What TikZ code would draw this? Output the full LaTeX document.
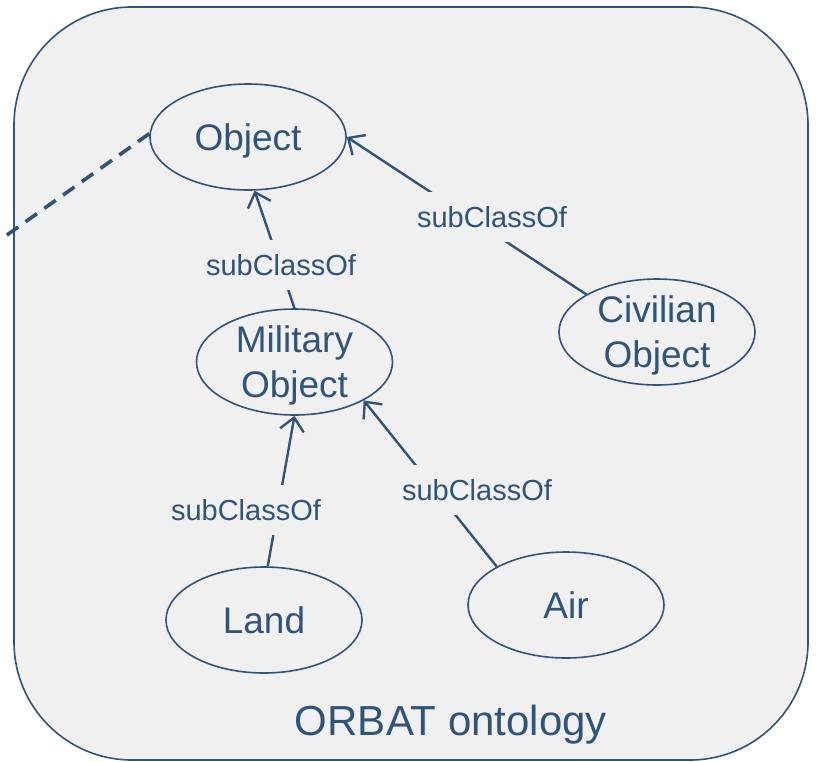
\documentclass[tikz,border=0pt]{standalone}
\usepackage{fontspec}
\setmainfont{Liberation Sans}
\usetikzlibrary{shapes.geometric,arrows.meta}
\definecolor{ink}{RGB}{47,84,122}
\definecolor{panel}{RGB}{240,240,240}
\begin{document}
\begin{tikzpicture}[x=1pt,y=-1pt,
  cls/.style={ellipse,draw=ink,line width=1.6pt,minimum width=196pt,minimum height=106pt,inner sep=0pt,text=ink,font=\fontsize{37}{45}\selectfont,align=center,text depth=0pt},
  rel/.style={fill=panel,text=ink,font=\fontsize{29}{31}\selectfont,inner xsep=3pt,inner ysep=14pt},
  sub/.style={draw=ink,line width=2.4pt,-{Straight Barb[length=13pt,width=24pt,line width=2.4pt]}},
  ext/.style={draw=ink,line width=3.6pt,dash pattern=on 14pt off 9pt},
  panelbox/.style={draw=ink,fill=panel,line width=1.6pt,rounded corners=118pt},
]
\useasboundingbox (0,0) rectangle (817,761);
\fill[white] (0,0) rectangle (817,761);
\draw[panelbox] (14,7) rectangle (808,760);

\node[cls] (obj) at (248,137) {Object};
\node[cls] (mil) at (294.5,362) {Military\\Object};
\node[cls] (civ) at (657,332) {Civilian\\Object};
\node[cls] (land) at (264,620) {Land};
\node[cls] (air) at (566,605) {Air};
\coordinate (out) at (0,240);

\draw[ext] (obj.178) -- (out);
\draw[sub] (mil.north) -- (obj.277);
\draw[sub] (civ.152) -- (obj.east);
\draw[sub] (land.86) -- (mil.south);
\draw[sub] (air.151) -- (mil.331);

\node[rel] (r1) at (281,265) {subClassOf};
\node[rel] (r2) at (492,217) {subClassOf};
\node[rel] (r3) at (246,510) {subClassOf};
\node[rel] (r4) at (477,490) {subClassOf};

\node[text=ink,font=\fontsize{42}{50}\selectfont] (title) at (451,725) {ORBAT ontology};
\end{tikzpicture}
\end{document}
